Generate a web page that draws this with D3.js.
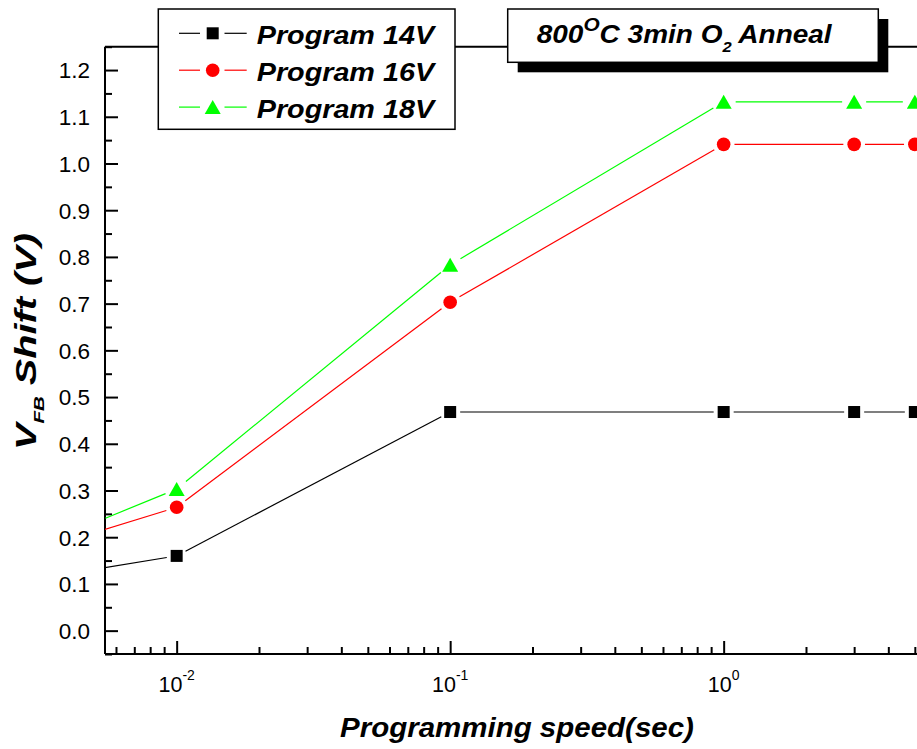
<!DOCTYPE html>
<html>
<head>
<meta charset="utf-8">
<script src="https://cdn.jsdelivr.net/npm/d3@7"></script>
<style>
  body { margin: 0; background: #fff; }
  svg { display: block; }
  text { font-family: Arial, "Liberation Sans", sans-serif; }
</style>
</head>
<body>
<svg id="chart" width="917" height="749"></svg>
<script>
// ---------- data ----------
const xValues = [0.005, 0.01, 0.1, 1, 3, 5];
const v14 = [0.131, 0.16, 0.468, 0.468, 0.468, 0.468];
const v16 = [0.21, 0.264, 0.703, 1.041, 1.041, 1.041];
const v18 = [0.231, 0.303, 0.783, 1.132, 1.132, 1.132];
const seriesNames = ["Program 14V", "Program 16V", "Program 18V"];
const seriesColors = ["#000000", "#ff0000", "#00ff00"];
const seriesMarkers = ["square", "circle", "triangle"];
const yTicks = [0.0, 0.1, 0.2, 0.3, 0.4, 0.5, 0.6, 0.7, 0.8, 0.9, 1.0, 1.1, 1.2];
const yMinorTicks = [-0.05, 0.05, 0.15, 0.25, 0.35, 0.45, 0.55, 0.65, 0.75, 0.85, 0.95, 1.05, 1.15, 1.25];
const xMajorTicks = [0.01, 0.1, 1];
const xExponents = ["-2", "-1", "0"];
const xMinorTicks = [0.006, 0.007, 0.008, 0.009, 0.02, 0.03, 0.04, 0.05, 0.06, 0.07, 0.08, 0.09,
                     0.2, 0.3, 0.4, 0.5, 0.6, 0.7, 0.8, 0.9, 2, 3, 4, 5, 6, 7, 8, 9];

const series = seriesNames.map((name, i) => ({
  name, color: seriesColors[i], marker: seriesMarkers[i],
  values: [v14, v16, v18][i].map((v, j) => ({x: xValues[j], y: v}))
}));

// ---------- layout ----------
const svg = d3.select("#chart");
const pLeft = 105, pBottom = 654, pTop = 46.7;
const decade = 273.5;
const xMin = 0.00547, xMax = 10;
const x = d3.scaleLog().domain([xMin, xMax])
  .range([pLeft, pLeft + decade * Math.log10(xMax / xMin)]);
const y = d3.scaleLinear().domain([-0.05, 1.25]).range([pBottom, pTop]);
const pRight = x.range()[1];

svg.append("defs").append("clipPath").attr("id", "plotclip")
  .append("rect").attr("x", pLeft).attr("y", pTop).attr("width", pRight - pLeft).attr("height", pBottom - pTop);

// ---------- axes ----------
svg.append("line").attr("x1", pLeft).attr("x2", pRight).attr("y1", pTop).attr("y2", pTop)
  .attr("stroke", "#000").attr("stroke-width", 2);

const yAxis = d3.axisLeft(y).tickValues(yTicks).tickSize(-13).tickPadding(0)
  .tickFormat(d3.format(".1f"));
const gy = svg.append("g").attr("transform", `translate(${pLeft},0)`).call(yAxis);
gy.select(".domain").attr("stroke-width", 2).attr("d", `M0,${pBottom}V${pTop}`);
gy.selectAll(".tick line").attr("stroke-width", 2);
gy.selectAll(".tick text").attr("x", -15).attr("dy", "0.35em")
  .style("font-size", "22.5px").attr("fill", "#000");
const yMinor = d3.axisLeft(y).tickValues(yMinorTicks).tickSize(-7).tickFormat("");
const gym = svg.append("g").attr("transform", `translate(${pLeft},0)`).call(yMinor);
gym.select(".domain").remove();
gym.selectAll(".tick line").attr("stroke-width", 2);

const xAxis = d3.axisBottom(x).tickValues(xMajorTicks).tickSize(-13).tickFormat("");
const gx = svg.append("g").attr("transform", `translate(0,${pBottom})`).call(xAxis);
gx.select(".domain").attr("stroke-width", 2).attr("d", `M${pLeft},0H${pRight}`);
gx.selectAll(".tick line").attr("stroke-width", 2);
const xMinor = d3.axisBottom(x).tickValues(xMinorTicks).tickSize(-7).tickFormat("");
const gxm = svg.append("g").attr("transform", `translate(0,${pBottom})`).call(xMinor);
gxm.select(".domain").remove();
gxm.selectAll(".tick line").attr("stroke-width", 2);

xMajorTicks.forEach((t, i) => {
  const tx = svg.append("text").attr("x", x(t)).attr("y", 692)
    .attr("text-anchor", "middle").attr("fill", "#000").style("font-size", "21.5px");
  tx.append("tspan").text("10");
  tx.append("tspan").attr("dy", -12).style("font-size", "14px").text(xExponents[i]);
});

// ---------- series ----------
const plot = svg.append("g").attr("clip-path", "url(#plotclip)");
const markerSize = {square: 6, circle: 6.8, triangle: 8};

function drawMarker(g, type, cx, cy, color) {
  if (type === "square") {
    g.append("rect").attr("x", cx - 6).attr("y", cy - 6).attr("width", 12).attr("height", 12)
      .attr("fill", color);
  } else if (type === "circle") {
    g.append("circle").attr("cx", cx).attr("cy", cy).attr("r", 6.8).attr("fill", color);
  } else {
    g.append("path").attr("d", `M${cx},${cy - 7}L${cx + 8},${cy + 7}L${cx - 8},${cy + 7}Z`)
      .attr("fill", color);
  }
}

series.forEach(s => {
  const gap = markerSize[s.marker] + 4;
  const pts = s.values.map(d => [x(d.x), y(d.y)]);
  for (let i = 0; i < pts.length - 1; i++) {
    const [x1, y1] = pts[i], [x2, y2] = pts[i + 1];
    const len = Math.hypot(x2 - x1, y2 - y1);
    const ux = (x2 - x1) / len, uy = (y2 - y1) / len;
    plot.append("line")
      .attr("x1", x1 + ux * gap).attr("y1", y1 + uy * gap)
      .attr("x2", x2 - ux * gap).attr("y2", y2 - uy * gap)
      .attr("stroke", s.color).attr("stroke-width", 1.2);
  }
  pts.forEach(([px, py]) => drawMarker(plot, s.marker, px, py, s.color));
});

function fitWidth(textSel, target) {
  const w = textSel.node().getBBox().width;
  const k = target / w;
  textSel.attr("transform", `scale(${k},1)`);
}

// ---------- legend ----------
const lg = svg.append("g");
lg.append("rect").attr("x", 158.3).attr("y", 9).attr("width", 296.7).attr("height", 120.3)
  .attr("fill", "#fff").attr("stroke", "#000").attr("stroke-width", 1.5);
series.forEach((s, i) => {
  const cy = 33.3 + 36.9 * i;
  lg.append("line").attr("x1", 179).attr("x2", 200).attr("y1", cy).attr("y2", cy)
    .attr("stroke", s.color).attr("stroke-width", 1.2);
  lg.append("line").attr("x1", 224.5).attr("x2", 246.7).attr("y1", cy).attr("y2", cy)
    .attr("stroke", s.color).attr("stroke-width", 1.2);
  drawMarker(lg, s.marker, 212.7, cy, s.color);
  const tg = lg.append("g").attr("transform", `translate(256.7,${44 + 36.9 * i})`);
  const t = tg.append("text").attr("x", 0).attr("y", 0)
    .style("font-size", "26.5px").style("font-weight", "bold").style("font-style", "italic")
    .attr("fill", "#000").text(s.name);
  fitWidth(t, 180);
});

// ---------- title box ----------
svg.append("rect").attr("x", 517.7).attr("y", 19).attr("width", 370.6).attr("height", 53.3).attr("fill", "#000");
svg.append("rect").attr("x", 507.7).attr("y", 9).attr("width", 370.6).attr("height", 53.3)
  .attr("fill", "#fff").attr("stroke", "#000").attr("stroke-width", 1.5);
const titleG = svg.append("g").attr("transform", "translate(536.7,43.3)");
const title = titleG.append("text").attr("x", 0).attr("y", 0)
  .style("font-size", "25.5px").style("font-weight", "bold").style("font-style", "italic").attr("fill", "#000");
title.append("tspan").text("800");
title.append("tspan").attr("dy", -12).style("font-size", "19px").text("O");
title.append("tspan").attr("dy", 12).text("C 3min O");
title.append("tspan").attr("dy", 9).style("font-size", "15px").text("2");
title.append("tspan").attr("dy", -9).text(" Anneal");
fitWidth(title, 296);

// ---------- axis titles ----------
const xtG = svg.append("g").attr("transform", "translate(340,737)");
const xt = xtG.append("text").attr("x", 0).attr("y", 0)
  .style("font-size", "27px").style("font-weight", "bold").style("font-style", "italic")
  .attr("fill", "#000").text("Programming speed(sec)");
fitWidth(xt, 354);

const ytG = svg.append("g").attr("transform", "translate(36,450) rotate(-90)");
const yt = ytG.append("text").attr("x", 0).attr("y", 0)
  .style("font-size", "29px").style("font-weight", "bold").style("font-style", "italic").attr("fill", "#000");
yt.append("tspan").text("V");
yt.append("tspan").attr("dy", 8).style("font-size", "15px").text("FB");
yt.append("tspan").attr("dy", -8).text(" Shift (V)");
fitWidth(yt, 217);
</script>
</body>
</html>
